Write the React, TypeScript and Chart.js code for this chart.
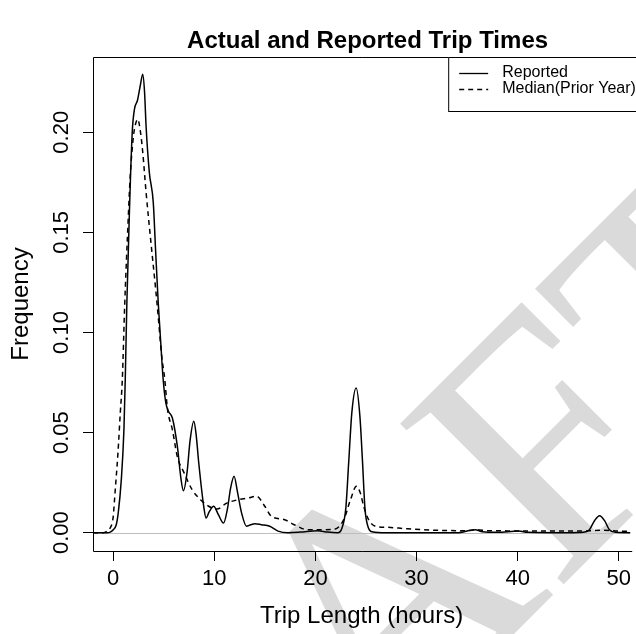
import React, { useEffect, useRef } from "react";
import { Chart, registerables } from "chart.js";

Chart.register(...registerables);

const chartTitle = "Actual and Reported Trip Times";
const xAxisTitle = "Trip Length (hours)";
const yAxisTitle = "Frequency";
const seriesLabels = ["Reported", "Median(Prior Year)"];
const xTickValues = [0, 10, 20, 30, 40, 50];
const yTickValues = [0, 0.05, 0.1, 0.15, 0.2];
const yTickLabels = ["0.00", "0.05", "0.10", "0.15", "0.20"];
const watermarkText = "DRAFT";

const reportedHours = [
  -2, -0.6, -0.3, 0, 0.3, 0.5, 0.8, 1.06, 1.19, 1.35, 1.6, 1.88, 2.1, 2.4, 2.7, 2.92, 3.1, 3.25,
  3.57, 3.96, 4.2, 4.45, 4.7, 4.94, 5.2, 5.46, 5.85, 6.34, 6.7, 6.94, 7.3, 7.6, 7.97, 8.2, 8.46,
  8.95, 9.18, 9.5, 9.93, 10.4, 10.91, 11.3, 11.6, 11.95, 12.3, 12.7, 13.19, 13.6, 14.0, 14.65,
  15.48, 16.3, 17.3, 18.5, 20.2, 21.2, 22.2, 22.6, 23.0, 23.3, 23.6, 24.03, 24.4, 24.65, 24.9,
  25.2, 25.6, 27, 30, 34, 35.8, 36.5, 38, 40.1, 41, 45, 46.5, 47.1, 47.6, 48.1, 48.6, 49.07, 49.7,
  52,
];
const reportedDensity = [
  0, 0, 0.0003, 0.0015, 0.004, 0.01, 0.0265, 0.0515, 0.0765, 0.115, 0.16, 0.2, 0.2115, 0.216,
  0.224, 0.229, 0.22, 0.203, 0.18, 0.165, 0.14, 0.115, 0.095, 0.0765, 0.065, 0.0607, 0.0573,
  0.0432, 0.027, 0.021, 0.03, 0.046, 0.0557, 0.049, 0.0348, 0.0132, 0.0073, 0.0105, 0.0132,
  0.009, 0.0048, 0.012, 0.022, 0.0282, 0.02, 0.0098, 0.0032, 0.004, 0.0045, 0.004, 0.0032,
  0.0008, 0, 0.0003, 0.001, 0.0003, 0, 0.002, 0.012, 0.036, 0.06, 0.0723, 0.058, 0.036, 0.012,
  0.003, 0.0005, 0, 0, 0, 0.0015, 0.0005, 0.0002, 0.0008, 0.0002, 0, 0.0002, 0.0015, 0.006,
  0.0085, 0.006, 0.0015, 0.0002, 0,
];

const medianHours = [
  -2, -1.0, -0.6, -0.34, 0, 0.15, 0.47, 0.7, 0.9, 1.13, 1.45, 1.68, 2.0, 2.2, 2.43, 2.7, 2.92,
  3.25, 3.73, 4.23, 4.45, 4.8, 5.1, 5.36, 5.85, 6.34, 7.0, 7.8, 8.63, 9.44, 10.25, 11.23, 12.38,
  13.36, 14.17, 14.99, 15.64, 16.95, 17.9, 19.2, 20.5, 21.84, 22.8, 23.47, 24.05, 24.44, 24.77,
  25.26, 26.08, 27.05, 29, 32, 35, 35.9, 37, 40.1, 44, 46, 48.5, 50, 53,
];
const medianDensity = [
  0, 0, 0.0008, 0.002, 0.008, 0.018, 0.04, 0.06, 0.0765, 0.113, 0.153, 0.178, 0.198, 0.204,
  0.2065, 0.2, 0.19, 0.17, 0.145, 0.12, 0.108, 0.088, 0.0765, 0.062, 0.0515, 0.038, 0.03, 0.0215,
  0.0165, 0.0132, 0.0118, 0.0148, 0.0165, 0.0173, 0.0182, 0.0132, 0.0082, 0.0065, 0.004, 0.0015,
  0.0015, 0.0017, 0.0065, 0.0165, 0.0232, 0.0198, 0.0132, 0.0065, 0.003, 0.0027, 0.002, 0.0012,
  0.001, 0.0015, 0.001, 0.0009, 0.0008, 0.0008, 0.0012, 0.0008, 0.0005,
];

const SANS = '"Liberation Sans", Arial, Helvetica, sans-serif';
const SERIF = '"Liberation Serif", "Times New Roman", serif';

const rStylePlugin = {
  id: "rStyle",
  beforeDraw(chart: any) {
    const ctx = chart.ctx as CanvasRenderingContext2D;
    ctx.save();
    ctx.fillStyle = "#ffffff";
    ctx.fillRect(0, 0, chart.width, chart.height);
    ctx.font = `350px ${SERIF}`;
    ctx.fillStyle = "rgb(218,218,218)";
    ctx.textAlign = "left";
    ctx.textBaseline = "alphabetic";
    ctx.translate(555, 593);
    ctx.rotate(-Math.PI / 4);
    const pre = ctx.measureText(watermarkText.slice(0, 3)).width;
    ctx.fillText(watermarkText, -pre, 0);
    ctx.restore();
  },
  beforeDatasetsDraw(chart: any) {
    const ctx = chart.ctx as CanvasRenderingContext2D;
    const { left, right } = chart.chartArea;
    const y0 = Math.round(chart.scales.y.getPixelForValue(0)) + 0.5;
    ctx.save();
    ctx.strokeStyle = "#bebebe";
    ctx.lineWidth = 1;
    ctx.beginPath();
    ctx.moveTo(left, y0);
    ctx.lineTo(right, y0);
    ctx.stroke();
    ctx.restore();
  },
  afterDraw(chart: any) {
    const ctx = chart.ctx as CanvasRenderingContext2D;
    const { left, right, top, bottom } = chart.chartArea;
    ctx.save();
    ctx.strokeStyle = "#000";
    ctx.lineWidth = 1;
    ctx.beginPath();
    ctx.moveTo(right + 2, top + 0.5);
    ctx.lineTo(left + 0.5, top + 0.5);
    ctx.lineTo(left + 0.5, bottom + 0.5);
    ctx.lineTo(right + 2, bottom + 0.5);
    ctx.stroke();

    const ys = chart.scales.y;
    ctx.fillStyle = "#000";
    ctx.font = `22px ${SANS}`;
    ctx.textAlign = "center";
    ctx.textBaseline = "middle";
    ys.ticks.forEach((t: any) => {
      const idx = yTickValues.indexOf(t.value);
      const label = idx >= 0 ? yTickLabels[idx] : String(t.value);
      const py = ys.getPixelForValue(t.value);
      ctx.save();
      ctx.translate(62, py);
      ctx.rotate(-Math.PI / 2);
      ctx.fillText(label, 0, 0);
      ctx.restore();
    });

    ctx.font = `bold 24px ${SANS}`;
    ctx.textAlign = "center";
    ctx.textBaseline = "alphabetic";
    ctx.fillText(chartTitle, (left + right) / 2 + 6, 48);

    const lx = right - 182;
    const ly = top;
    const lh = 54;
    ctx.fillStyle = "#fff";
    ctx.fillRect(lx, ly, chart.width - lx + 10, lh);
    ctx.strokeStyle = "#000";
    ctx.lineWidth = 1;
    ctx.strokeRect(lx + 0.5, ly + 0.5, chart.width - lx + 20, lh);
    ctx.font = `16px ${SANS}`;
    ctx.textAlign = "left";
    ctx.textBaseline = "middle";
    chart.data.datasets.forEach((ds: any, i: number) => {
      const ry = ly + 16 + i * 16;
      ctx.strokeStyle = "#000";
      ctx.lineWidth = 1.3;
      ctx.setLineDash(ds.borderDash || []);
      ctx.beginPath();
      ctx.moveTo(lx + 11, Math.round(ry) + 0.5);
      ctx.lineTo(lx + 40, Math.round(ry) + 0.5);
      ctx.stroke();
      ctx.setLineDash([]);
      ctx.fillStyle = "#000";
      ctx.fillText(ds.label, lx + 54, ry);
    });
    ctx.restore();
  },
};

export default function App() {
  const canvasRef = useRef<HTMLCanvasElement | null>(null);

  useEffect(() => {
    const canvas = canvasRef.current;
    if (!canvas) return;
    Chart.defaults.font.family = SANS;
    const chart = new Chart(canvas, {
      type: "line",
      data: {
        datasets: [
          {
            label: seriesLabels[0],
            data: reportedHours.map((x, i) => ({ x, y: reportedDensity[i] })),
            borderColor: "#000",
            borderWidth: 1.5,
            pointRadius: 0,
            fill: false,
            cubicInterpolationMode: "monotone",
          },
          {
            label: seriesLabels[1],
            data: medianHours.map((x, i) => ({ x, y: medianDensity[i] })),
            borderColor: "#000",
            borderWidth: 1.5,
            borderDash: [5, 4],
            pointRadius: 0,
            fill: false,
            cubicInterpolationMode: "monotone",
          },
        ],
      },
      options: {
        animation: false,
        responsive: false,
        devicePixelRatio: 1,
        layout: { padding: { top: 57, left: 0, right: 0, bottom: 0 }, autoPadding: false },
        plugins: { legend: { display: false }, title: { display: false }, tooltip: { enabled: false } },
        scales: {
          x: {
            type: "linear",
            min: -2.0,
            max: 51.13,
            afterBuildTicks: (s: any) => {
              s.ticks = xTickValues.map((v) => ({ value: v }));
            },
            afterFit: (s: any) => {
              s.height = 83;
            },
            border: { display: false },
            grid: { display: true, drawOnChartArea: false, drawTicks: true, tickLength: 10, color: "#000", lineWidth: 1 },
            ticks: {
              color: "#000",
              font: { size: 22, family: SANS },
              padding: 5,
              maxRotation: 0,
              minRotation: 0,
              autoSkip: false,
              callback: (v: any) => String(v),
            },
            title: {
              display: true,
              text: xAxisTitle,
              color: "#000",
              font: { size: 24, family: SANS, lineHeight: 1.2 },
              padding: { top: 0, bottom: 3 },
            },
          },
          y: {
            type: "linear",
            min: -0.00914,
            max: 0.2376,
            afterBuildTicks: (s: any) => {
              s.ticks = yTickValues.map((v) => ({ value: v }));
            },
            afterFit: (s: any) => {
              s.width = 93;
            },
            border: { display: false },
            grid: { display: true, drawOnChartArea: false, drawTicks: true, tickLength: 10, color: "#000", lineWidth: 1 },
            ticks: { display: false },
            title: {
              display: true,
              text: yAxisTitle,
              color: "#000",
              font: { size: 24, family: SANS, lineHeight: 1.2 },
              padding: { top: 7, bottom: 0 },
            },
          },
        },
      },
      plugins: [rStylePlugin],
    } as any);
    return () => chart.destroy();
  }, []);

  return (
    <div style={{ position: "fixed", left: 0, top: 0, width: 636, height: 634, background: "#fff" }}>
      <canvas ref={canvasRef} width={636} height={634} style={{ display: "block" }} />
    </div>
  );
}
